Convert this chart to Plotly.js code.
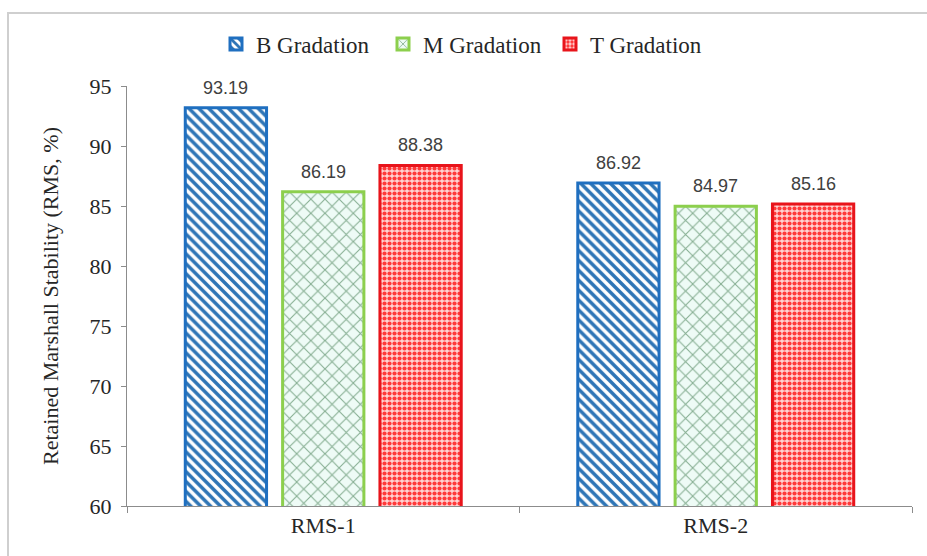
<!DOCTYPE html>
<html>
<head>
<meta charset="utf-8">
<script src="https://cdn.plot.ly/plotly-3.0.1.min.js"></script>
<style>
html,body{margin:0;padding:0;background:#fff;overflow:hidden;}
#wrap{position:relative;width:927px;height:556px;overflow:hidden;}
#chart{width:927px;height:556px;}
#frame{position:absolute;left:7px;top:12px;width:1200px;height:1200px;border-left:2px solid #CFCFCF;border-top:2px solid #CFCFCF;pointer-events:none;}
</style>
</head>
<body>
<div id="wrap">
<div id="chart"></div>
<div id="frame"></div>
</div>
<script>
const categories = ["RMS-1", "RMS-2"];
const seriesNames = ["B Gradation", "M Gradation", "T Gradation"];
const bValues = [93.19, 86.92];
const mValues = [86.19, 84.97];
const tValues = [88.38, 85.16];
const yTicks = [60, 65, 70, 75, 80, 85, 90, 95];

const serif = "Liberation Serif, Times New Roman, serif";
const sans = "Liberation Sans, Arial, sans-serif";

const W = 927, H = 556;
const margin = {l: 127, r: 15, t: 86, b: 50};
const plotW = W - margin.l - margin.r;
const plotH = H - margin.t - margin.b;
const bargap = 0.256;

const styles = [
  {line: "#1F6FC0", pat: {shape: "\\", fgcolor: "#2E75B6", bgcolor: "#FFFFFF", size: 7, solidity: 0.5}},
  {line: "#8CCF4D", pat: {shape: "x", fgcolor: "#86AE92", bgcolor: "#EEFBF6", size: 10, solidity: 0.2}},
  {line: "#E8141B", pat: {shape: ".", fgcolor: "#FF3A3A", bgcolor: "#FFD2D2", size: 5, solidity: 0.55}}
];
const allValues = [bValues, mValues, tValues];

const traces = allValues.map((vals, i) => ({
  type: "bar",
  name: seriesNames[i],
  x: categories,
  y: vals,
  marker: {color: "#FFFFFF", pattern: styles[i].pat, line: {color: styles[i].line, width: 3}},
  hoverinfo: "none"
}));

// data labels
const catW = plotW / categories.length;
const slot = catW * (1 - bargap) / 3;
const annotations = [];
allValues.forEach((vals, i) => {
  vals.forEach((v, j) => {
    annotations.push({
      x: categories[j], y: v, xref: "x", yref: "y",
      text: v.toFixed(2), showarrow: false,
      xshift: (i - 1) * slot, yshift: 8, yanchor: "bottom",
      font: {family: sans, size: 18, color: "#404040"}
    });
  });
});

const layout = {
  width: W, height: H,
  margin: margin,
  paper_bgcolor: "rgba(0,0,0,0)",
  plot_bgcolor: "rgba(0,0,0,0)",
  barmode: "group",
  bargap: bargap,
  bargroupgap: 0.165,
  showlegend: true,
  legend: {
    orientation: "h", x: (216 - margin.l) / plotW, xanchor: "left", y: (H - margin.b - 44) / plotH, yanchor: "middle",
    font: {family: serif, size: 23, color: "#262626"},
    bgcolor: "rgba(0,0,0,0)",
    entrywidth: 122, entrywidthmode: "pixels", itemwidth: 30, traceorder: "normal"
  },
  xaxis: {
    type: "category",
    showline: true, linecolor: "#8C8C8C", linewidth: 1,
    ticks: "outside", tickson: "boundaries", ticklen: 6, tickcolor: "#8C8C8C",
    tickfont: {family: serif, size: 22, color: "#262626"},
    showgrid: false, zeroline: false
  },
  yaxis: {
    range: [60, 95], tickvals: yTicks,
    showline: true, linecolor: "#8C8C8C", linewidth: 1,
    ticks: "outside", ticklen: 5, tickcolor: "#8C8C8C", ticklabelstandoff: 5,
    tickfont: {family: serif, size: 22, color: "#262626"},
    showgrid: false, zeroline: false,
    title: {text: "Retained Marshall Stability (RMS, %)", font: {family: serif, size: 22, color: "#262626"}, standoff: 24}
  },
  annotations: annotations
};

Plotly.newPlot("chart", traces, layout, {displayModeBar: false, staticPlot: true});
</script>
</body>
</html>
